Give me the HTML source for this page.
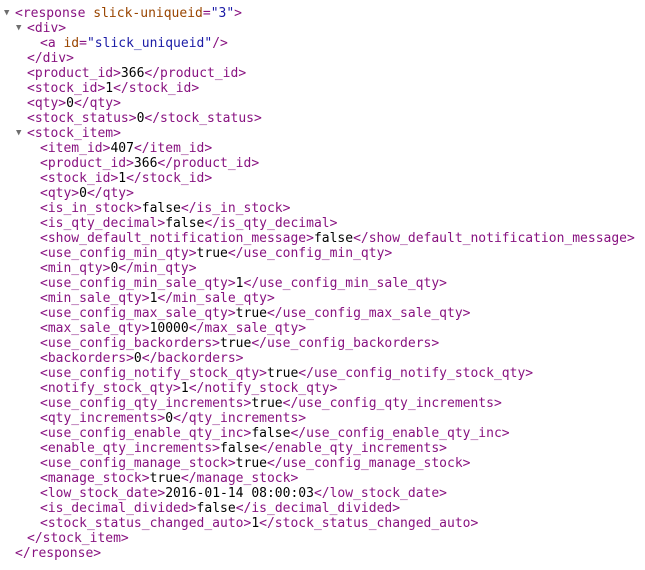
<!DOCTYPE html>
<html><head><meta charset="utf-8"><style>
body{margin:0;background:#fff;width:645px;height:570px;overflow:hidden;font-family:"DejaVu Sans Mono","Liberation Mono",monospace;font-size:13px;}
.l{position:absolute;white-space:pre;line-height:15px;height:15px;}
.t{color:#881280}.a{color:#994500}.v{color:#1a1aa6}
.tri{position:absolute;color:#6e6e6e;font-size:9px;line-height:15px;}
</style></head><body>
<div id="c"></div>
<script>
var L=[
[0,'<response',' slick-uniqueid','="3"','>'],
[1,'<div>'],
[2,'<a',' id','="slick_uniqueid"','/>'],
[1,'</div>'],
[1,'product_id','366'],[1,'stock_id','1'],[1,'qty','0'],[1,'stock_status','0'],
[1,'<stock_item>'],
[2,'item_id','407'],[2,'product_id','366'],[2,'stock_id','1'],[2,'qty','0'],
[2,'is_in_stock','false'],[2,'is_qty_decimal','false'],
[2,'show_default_notification_message','false'],
[2,'use_config_min_qty','true'],[2,'min_qty','0'],
[2,'use_config_min_sale_qty','1'],[2,'min_sale_qty','1'],
[2,'use_config_max_sale_qty','true'],[2,'max_sale_qty','10000'],
[2,'use_config_backorders','true'],[2,'backorders','0'],
[2,'use_config_notify_stock_qty','true'],[2,'notify_stock_qty','1'],
[2,'use_config_qty_increments','true'],[2,'qty_increments','0'],
[2,'use_config_enable_qty_inc','false'],[2,'enable_qty_increments','false'],
[2,'use_config_manage_stock','true'],[2,'manage_stock','true'],
[2,'low_stock_date','2016-01-14 08:00:03'],[2,'is_decimal_divided','false'],
[2,'stock_status_changed_auto','1'],
[1,'</stock_item>'],
[0,'</response>']
];
function e(s){return s.replace(/&/g,'&amp;').replace(/</g,'&lt;').replace(/>/g,'&gt;');}
var h='',x=[15,27,40];
L.forEach(function(r,i){
 var y=6+i*15,s;
 if(r.length==5) s='<span class="t">'+e(r[1])+'</span><span class="a">'+r[2]+'</span><span class="t">=</span><span class="v">'+e(r[3].slice(1))+'</span><span class="t">'+e(r[4])+'</span>';
 else if(r.length==3) s='<span class="t">&lt;'+r[1]+'&gt;</span>'+e(r[2])+'<span class="t">&lt;/'+r[1]+'&gt;</span>';
 else s='<span class="t">'+e(r[1])+'</span>';
 h+='<div class="l" style="left:'+x[r[0]]+'px;top:'+y+'px">'+s+'</div>';
});
h+='<div class="tri" style="left:4px;top:6px">▼</div><div class="tri" style="left:16px;top:21px">▼</div><div class="tri" style="left:16px;top:126px">▼</div>';
document.getElementById('c').innerHTML=h;
</script>
</body></html>
